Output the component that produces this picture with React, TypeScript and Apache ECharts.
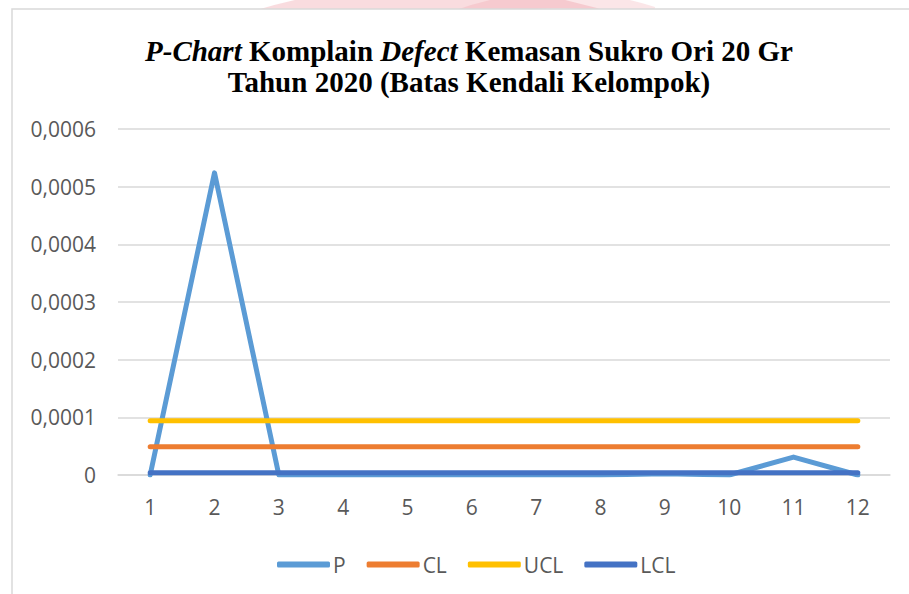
import React, { useEffect, useRef } from "react";
import * as echarts from "echarts";

const categories = ["1", "2", "3", "4", "5", "6", "7", "8", "9", "10", "11", "12"];
const pValues = [0, 0.000524, 0, 0, 0, 0, 0, 0, 0.000002, 0, 0.000031, 0];
const clValues = [0.000049, 0.000049, 0.000049, 0.000049, 0.000049, 0.000049, 0.000049, 0.000049, 0.000049, 0.000049, 0.000049, 0.000049];
const uclValues = [0.000094, 0.000094, 0.000094, 0.000094, 0.000094, 0.000094, 0.000094, 0.000094, 0.000094, 0.000094, 0.000094, 0.000094];
const lclValues = [0.000004, 0.000004, 0.000004, 0.000004, 0.000004, 0.000004, 0.000004, 0.000004, 0.000004, 0.000004, 0.000004, 0.000004];
const seriesNames = ["P", "CL", "UCL", "LCL"];
const seriesColors = ["#5B9BD5", "#ED7D31", "#FFC000", "#4472C4"];

const labelFont = "'Open Sans', 'Liberation Sans', sans-serif";
const serif = "'Liberation Serif', 'Times New Roman', serif";

export default function App() {
  const ref = useRef<HTMLDivElement>(null);
  useEffect(() => {
    if (!ref.current) return;
    const chart = echarts.init(ref.current, undefined, { renderer: "svg" });
    const data = [pValues, clValues, uclValues, lclValues];
    chart.setOption({
      animation: false,
      backgroundColor: "#ffffff",
      title: {
        text: "{i|P-Chart} Komplain {i|Defect} Kemasan Sukro Ori 20 Gr\nTahun 2020 (Batas Kendali Kelompok)",
        left: 464,
        top: 30,
        textAlign: "center",
        textStyle: {
          fontFamily: serif,
          fontWeight: "bold",
          fontSize: 29,
          lineHeight: 31,
          color: "#000000",
          rich: {
            i: {
              fontFamily: serif,
              fontWeight: "bold",
              fontStyle: "italic",
              fontSize: 29,
              lineHeight: 31,
              color: "#000000",
            },
          },
        },
      },
      graphic: [
        { type: "arc", z: -10, shape: { cx: 430, cy: 600, r: 600, startAngle: Math.PI * 1.3, endAngle: Math.PI * 1.7 }, style: { stroke: "rgba(236,140,150,0.3)", lineWidth: 30, fill: "none" }, silent: true },
        { type: "arc", z: -10, shape: { cx: 560, cy: 300, r: 300, startAngle: Math.PI * 1.35, endAngle: Math.PI * 1.6 }, style: { stroke: "rgba(236,140,150,0.22)", lineWidth: 16, fill: "none" }, silent: true },
        { type: "rect", z: -9, shape: { x: 0, y: 9, width: 909, height: 600 }, style: { fill: "#ffffff" }, silent: true },
        { type: "rect", z: -8, shape: { x: 12, y: 9, width: 1000, height: 700 }, style: { fill: "#ffffff", stroke: "#d9d9d9", lineWidth: 1.5 }, silent: true },
      ],
      legend: {
        left: 272,
        top: 549,
        itemWidth: 53,
        itemHeight: 6,
        itemGap: 21,
        icon: "roundRect",
        data: seriesNames,
        textStyle: { color: "#595959", fontSize: 21, fontFamily: labelFont, padding: [0, 0, 0, -2] },
      },
      grid: { left: 118, right: 19, top: 129, bottom: 119, containLabel: false },
      xAxis: {
        type: "category",
        data: categories,
        boundaryGap: true,
        axisLine: { show: true, lineStyle: { color: "#d9d9d9", width: 1.5 } },
        axisTick: { show: false },
        axisLabel: { color: "#595959", fontSize: 21, fontFamily: labelFont, margin: 21 },
      },
      yAxis: {
        type: "value",
        min: 0,
        max: 0.0006,
        interval: 0.0001,
        axisLine: { show: false },
        axisTick: { show: false },
        splitLine: { lineStyle: { color: "#d9d9d9", width: 1.5 } },
        axisLabel: {
          color: "#595959",
          fontSize: 21,
          fontFamily: labelFont,
          margin: 22,
          formatter: (v: number) => (v === 0 ? "0" : v.toFixed(4).replace(".", ",")),
        },
      },
      series: seriesNames.map((name, i) => ({
        name,
        type: "line",
        data: data[i],
        showSymbol: false,
        symbol: "none",
        color: seriesColors[i],
        z: 2 + i,
        lineStyle: { color: seriesColors[i], width: 5, cap: "round", join: "round" },
      })),
    });
    return () => chart.dispose();
  }, []);
  return (
    <div
      ref={ref}
      style={{ position: "fixed", left: 0, top: 0, width: 909, height: 594 }}
    />
  );
}
